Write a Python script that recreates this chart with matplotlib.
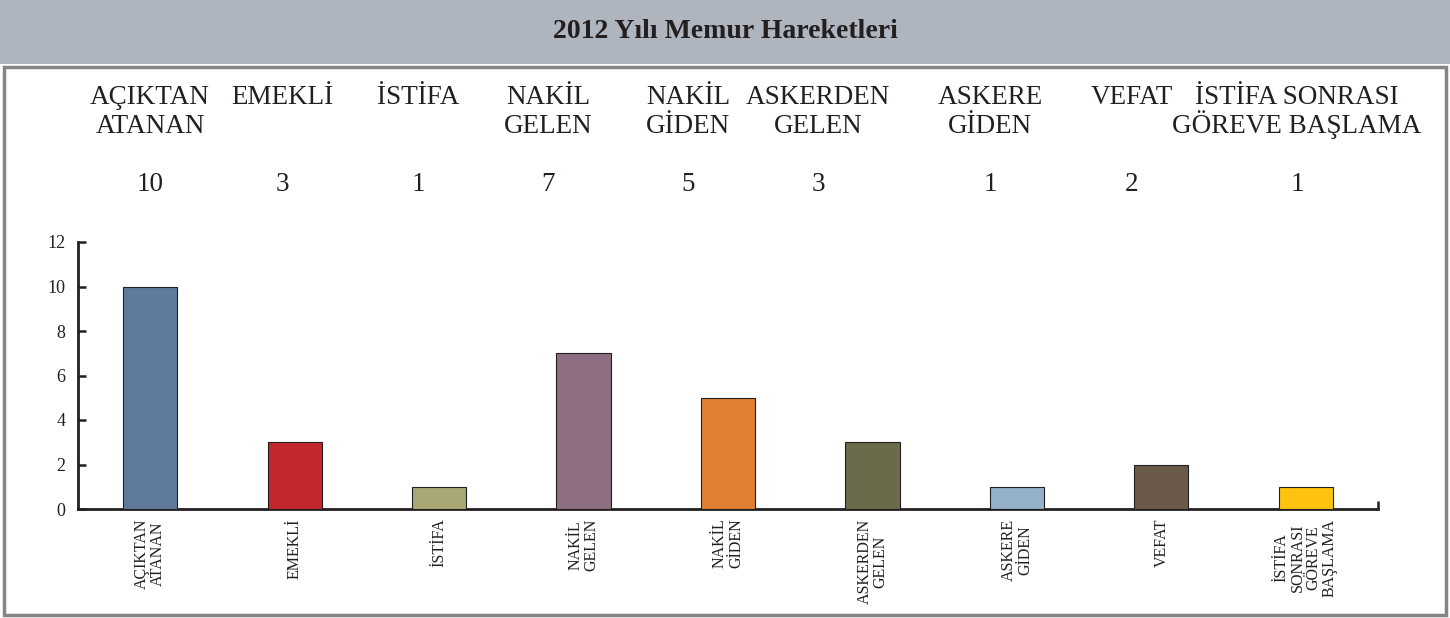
import matplotlib
matplotlib.use("Agg")
import matplotlib.pyplot as plt
from matplotlib.patches import Rectangle

categories = ["AÇIKTAN\nATANAN", "EMEKLİ", "İSTİFA", "NAKİL\nGELEN", "NAKİL\nGİDEN",
              "ASKERDEN\nGELEN", "ASKERE\nGİDEN", "VEFAT", "İSTİFA\nSONRASI\nGÖREVE\nBAŞLAMA"]
top_labels = ["AÇIKTAN\nATANAN", "EMEKLİ", "İSTİFA", "NAKİL\nGELEN", "NAKİL\nGİDEN",
              "ASKERDEN\nGELEN", "ASKERE\nGİDEN", "VEFAT", "İSTİFA SONRASI\nGÖREVE BAŞLAMA"]
values = [10, 3, 1, 7, 5, 3, 1, 2, 1]
colors = ["#5F7A9C", "#C1272D", "#A8A874", "#8E6F82", "#E07F2F",
          "#6B6B4B", "#93B1C9", "#6B5A4A", "#FFC20E"]
yticks = [0, 2, 4, 6, 8, 10, 12]
title = "2012 Yılı Memur Hareketleri"

# layout: x-centers (pixels) of the header table columns, and baselines
header_x = [150, 282, 418, 548, 688, 818, 990, 1132, 1297]
line_baselines = [104, 133]
number_baseline = 191

W, H = 1450, 618
SERIF = ["Liberation Serif", "DejaVu Serif"]
plt.rcParams['font.family'] = SERIF

fig = plt.figure(figsize=(W / 100, H / 100), dpi=100)

# title band
fig.patches.append(Rectangle((0, 1 - 64 / H), 1, 64 / H, transform=fig.transFigure,
                             facecolor="#AFB5BF", edgecolor="none", zorder=0))
# grey frame
fig.patches.append(Rectangle((4 / W, 3 / H), (W - 8) / W, (H - 3 - 67) / H,
                             transform=fig.transFigure, facecolor="none",
                             edgecolor="#858585", linewidth=2.5, zorder=1))
fig.text(0.5, 1 - 32 / H, title, ha="center", va="center", fontsize=20,
         fontweight="bold", color="#231F20")

# header table
for xp, lab, v in zip(header_x, top_labels, values):
    for line, yb in zip(lab.split("\n"), line_baselines):
        fig.text(xp / W, 1 - yb / H, line, ha="center", va="baseline", fontsize=19.5,
                 color="#231F20")
    fig.text(xp / W, 1 - number_baseline / H, str(v), ha="center", va="baseline",
             fontsize=19.5, color="#231F20")

ax = fig.add_axes([78 / W, 109 / H, 1300 / W, 267 / H])
x = list(range(len(categories)))
ax.bar(x, values, width=0.375, color=colors, edgecolor="#231F20", linewidth=0.8, zorder=3)
ax.set_xlim(-0.5, len(categories) - 0.5)
ax.set_ylim(0, 12)
ax.set_yticks(yticks)
ax.set_yticklabels([str(t) for t in yticks], fontsize=13, color="#231F20")
ax.set_xticks(x)
ax.set_xticklabels(categories, rotation=90, fontsize=11.5, color="#231F20",
                   linespacing=1.0, multialignment="center", va="top", ha="center")
ax.tick_params(axis="x", length=0, pad=7)
ax.tick_params(axis="y", direction="in", length=6, width=1.8, color="#231F20", pad=9)
ax.set_xticks([len(categories) - 0.5], minor=True)
ax.tick_params(axis="x", which="minor", direction="in", length=6, width=1.8, color="#231F20")
for s in ["top", "right"]:
    ax.spines[s].set_visible(False)
for s in ["left", "bottom"]:
    ax.spines[s].set_linewidth(2)
    ax.spines[s].set_color("#231F20")
ax.set_facecolor("none")

fig.savefig("out.png", dpi=100)
